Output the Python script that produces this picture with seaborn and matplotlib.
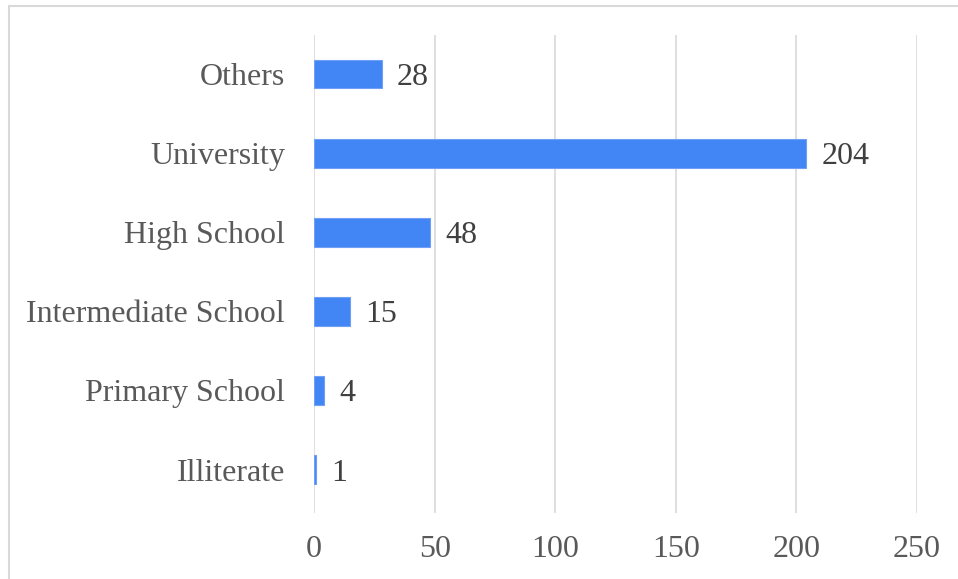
import matplotlib
matplotlib.use("Agg")
import matplotlib.pyplot as plt
from matplotlib.lines import Line2D
import seaborn as sns
import pandas as pd

levels = ["Others", "University", "High School", "Intermediate School",
          "Primary School", "Illiterate"]
counts = [28, 204, 48, 15, 4, 1]
x_ticks = [0, 50, 100, 150, 200, 250]

df = pd.DataFrame({"level": levels, "count": counts})

sns.set_theme(style="white")
plt.rcParams["font.family"] = ["Liberation Serif", "DejaVu Serif"]

fig = plt.figure(figsize=(9.58, 5.79), dpi=100)
ax = fig.add_axes([0.3278, 0.114, 0.6294, 0.826])

sns.barplot(data=df, x="count", y="level", order=levels, color="#4285F4",
            saturation=1, width=0.36, edgecolor="#6FA0F5", linewidth=0.8,
            ax=ax)

for cont in ax.containers:
    texts = ax.bar_label(cont, labels=[str(v) for v in counts], padding=11,
                         fontsize=23, color="#404040")
    for t in texts:
        t.set_va("center_baseline")

ax.set_xlim(0, 250)
ax.set_ylim(5.55, -0.5)
ax.set_xticks(x_ticks)
ax.set_xticklabels([str(t) for t in x_ticks])
ax.xaxis.grid(True, color="#D9D9D9", linewidth=1.2)
ax.set_axisbelow(True)
ax.tick_params(axis="x", labelsize=23, labelcolor="#595959", length=0, pad=16)
ax.tick_params(axis="y", labelsize=23, labelcolor="#595959", length=0, pad=21)
for lbl in ax.get_yticklabels():
    lbl.set_va("center_baseline")
ax.set_xlabel("")
ax.set_ylabel("")
for s in ax.spines.values():
    s.set_visible(False)

# outer chart-area frame
fig.add_artist(Line2D([9 / 958, 1], [1 - 6 / 579, 1 - 6 / 579],
                      transform=fig.transFigure, color="#D9D9D9", lw=1.5))
fig.add_artist(Line2D([9 / 958, 9 / 958], [0, 1 - 6 / 579],
                      transform=fig.transFigure, color="#D9D9D9", lw=1.5))

fig.savefig("out.png", dpi=100)
